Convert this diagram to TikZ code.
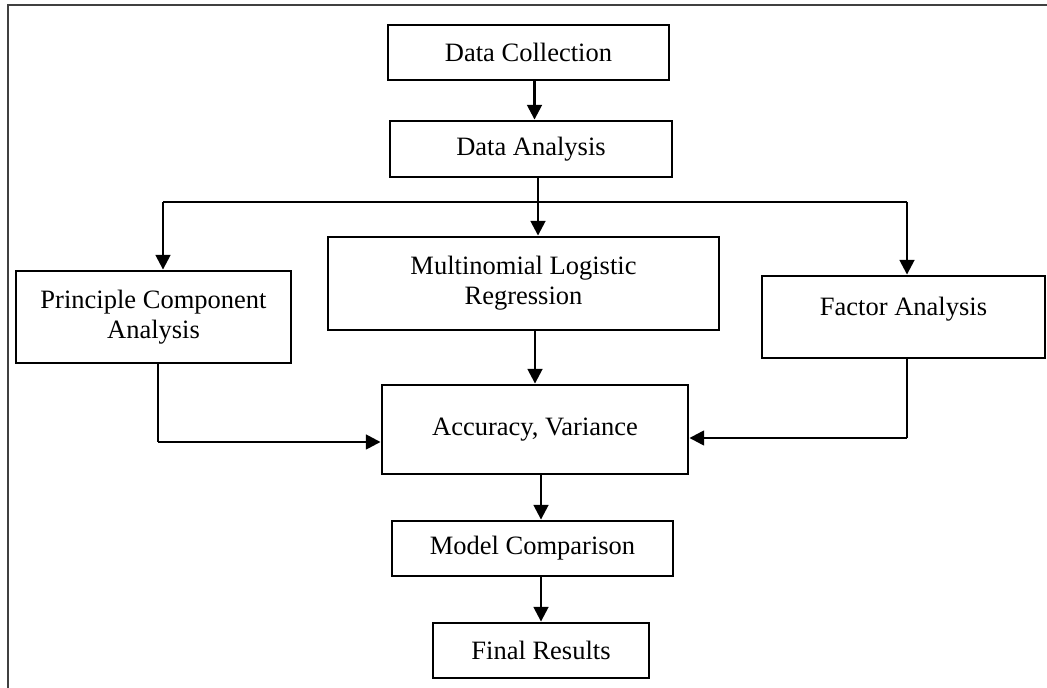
\documentclass[tikz,border=0pt]{standalone}
\usepackage{fontspec}
\setmainfont{Liberation Serif}
\usetikzlibrary{arrows.meta}

\begin{document}
\begin{tikzpicture}[x=0.025cm,y=-0.025cm,>={Triangle[length=10.5pt,width=10.5pt]},line width=1.8pt]
        \tikzstyle{block}=[draw=black,line width=2pt,fill=white,align=center,inner sep=0pt,font=\fontsize{18.85}{21.4}\selectfont]
        \tikzstyle{thinline}=[line width=0.9pt]
        \useasboundingbox (0,0) rectangle (1047,688);
        \draw[line width=1.3pt,black!75] (8,688) -- (8,5) -- (1047,5);
        \node[block,minimum width=7.025cm,minimum height=1.375cm] (dc) at (528.5,52.5) {Data Collection};
        \node[block,minimum width=7.05cm,minimum height=1.4cm] (da) at (531,149) {Data Analysis};
        \node[block,minimum width=9.775cm,minimum height=2.325cm] (mlr) at (523.5,283.5) {Multinomial Logistic\\Regression};
        \node[block,minimum width=6.875cm,minimum height=2.3cm] (pca) at (153.5,317) {Principle Component\\Analysis};
        \node[block,minimum width=7.075cm,minimum height=2.05cm,text depth=15.7pt] (fa) at (903.5,317) {Factor Analysis};
        \node[block,minimum width=7.65cm,minimum height=2.225cm] (acc) at (535,429.5) {Accuracy, Variance};
        \node[block,minimum width=7.025cm,minimum height=1.375cm] (mc) at (532.5,548.5) {Model Comparison};
        \node[block,minimum width=5.4cm,minimum height=1.375cm] (fr) at (541,650.5) {Final Results};
        \coordinate (bl) at (163,202);
        \coordinate (br) at (907,202);
        \coordinate (pl) at (158,442);
        \coordinate (fl) at (907,438);
    \draw[thinline] (bl) -- (br);
    \draw[thinline] (pca.south -| pl) -- (pl);
    \draw[thinline] (fa.south -| fl) -- (fl);
    \path[->]
        ([xshift=0.15cm]dc.south) edge ([xshift=0.15cm]dc.south |- da.north)
        ([xshift=0.175cm]da.south) edge ([xshift=0.175cm]da.south |- mlr.north)
        (bl) edge (bl |- pca.north)
        (br) edge (br |- fa.north)
        (pl) edge (pl -| acc.west)
        (fl) edge (fl -| acc.east)
        (acc.north |- mlr.south) edge (acc.north)
        (acc.south -| fr.north) edge (mc.north -| fr.north)
        (mc.south -| fr.north) edge (fr.north);
\end{tikzpicture}
\end{document}
